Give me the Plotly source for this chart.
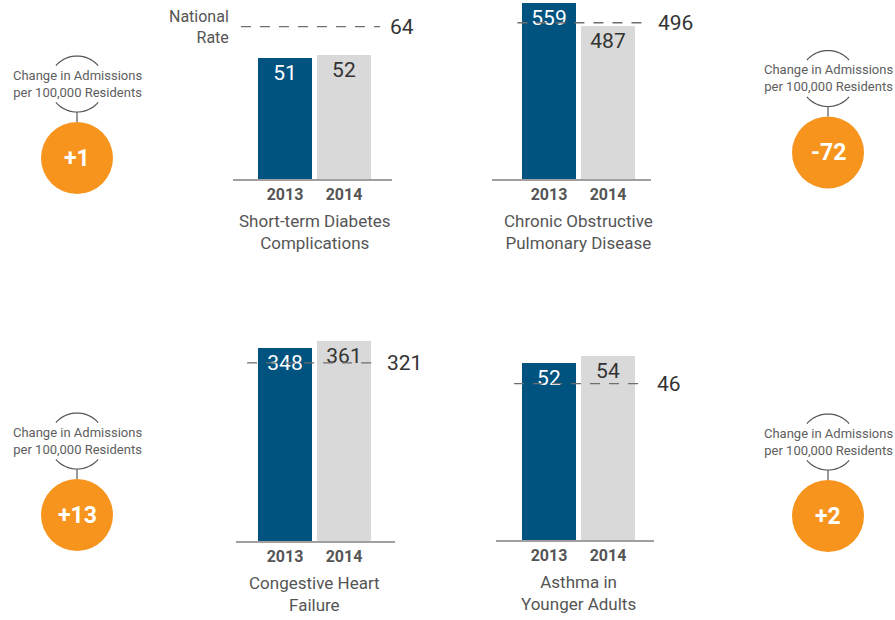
import math
import plotly.graph_objects as go

# ---- data -------------------------------------------------------------
conditions = [
    "Short-term Diabetes<br>Complications",
    "Chronic Obstructive<br>Pulmonary Disease",
    "Congestive Heart<br>Failure",
    "Asthma in<br>Younger Adults",
]
years = ["2013", "2014"]
rate_2013 = [51, 559, 348, 52]
rate_2014 = [52, 487, 361, 54]
national_rate = [64, 496, 321, 46]
change = [b - a for a, b in zip(rate_2013, rate_2014)]

# ---- layout helpers (pixel geometry of the 895x620 canvas) -------------
W, H = 895, 620
BLUE = "#00527f"
GREY_BAR = "#d9d9d9"
ORANGE = "#f7941d"
TXT = "#555555"
DARK = "#333333"
FONT = "Roboto"


def fx(x):
    return x / W


def fy(y):
    return 1 - y / H


# per panel: x extent of axis (px), top/bottom of plot area (px),
# centre of first bar (px), px per data unit, dashed-line span (domain frac),
# badge centre (px)
panels = [
    dict(x0=233, x1=392, top=0, base=179, c0=285, k=2.38, d=(0.05, 0.925), badge=(77, 158)),
    dict(x0=492, x1=651, top=0, base=179, c0=549, k=0.315, d=(0.16, 0.98), badge=(828, 152.5)),
    dict(x0=236, x1=395, top=290, base=541, c0=285, k=0.555, d=(0.07, 0.887), badge=(77, 515)),
    dict(x0=496, x1=654, top=290, base=540, c0=549, k=3.40, d=(0.114, 0.956), badge=(828, 516)),
]
STEP = 59.0  # px between bar centres

fig = go.Figure()
shapes = []
annotations = []

for i, p in enumerate(panels):
    n = "" if i == 0 else str(i + 1)
    xa, ya = "x" + n, "y" + n
    vals = [rate_2013[i], rate_2014[i]]
    fig.add_trace(
        go.Bar(
            x=list(range(len(years))),
            y=vals,
            xaxis=xa,
            yaxis=ya,
            width=54 / STEP,
            marker=dict(color=[BLUE, GREY_BAR], line=dict(width=0)),
            text=[str(v) for v in vals],
            textposition="inside",
            insidetextanchor="end",
            textangle=0,
            constraintext="none",
            textfont=dict(family=FONT, size=21, color=["white", DARK]),
            hoverinfo="skip",
            showlegend=False,
        )
    )
    xr = [(p["x0"] - p["c0"]) / STEP, (p["x1"] - p["c0"]) / STEP]
    yr = [0, (p["base"] - p["top"]) / p["k"]]
    fig.layout["xaxis" + n] = dict(
        domain=[fx(p["x0"]), fx(p["x1"])],
        range=xr,
        anchor=ya,
        tickvals=list(range(len(years))),
        ticktext=[f"<b>{y}</b>" for y in years],
        tickfont=dict(family=FONT, size=16, color=TXT),
        showline=True,
        linecolor="#a0a0a0",
        linewidth=2,
        showgrid=False,
        zeroline=False,
        ticks="",
        fixedrange=True,
    )
    fig.layout["yaxis" + n] = dict(
        domain=[fy(p["base"]), fy(p["top"])],
        range=yr,
        anchor=xa,
        visible=False,
        fixedrange=True,
    )

    # national rate reference line and its value
    shapes.append(
        dict(
            type="line",
            xref=xa + " domain",
            yref=ya,
            x0=p["d"][0],
            x1=p["d"][1],
            y0=national_rate[i],
            y1=national_rate[i],
            line=dict(color="#6f6f6f", width=1.3, dash="10px,9px"),
            layer="above",
        )
    )
    annotations.append(
        dict(
            xref=xa + " domain",
            yref=ya,
            x=p["d"][1] + 8 / 159,
            y=national_rate[i],
            xanchor="left",
            yanchor="middle",
            text=str(national_rate[i]),
            showarrow=False,
            font=dict(family=FONT, size=21, color=DARK),
        )
    )
    if i == 0:
        annotations.append(
            dict(
                xref=xa + " domain",
                yref=ya,
                x=p["d"][0] - 10 / 159,
                y=national_rate[i],
                xanchor="right",
                yanchor="middle",
                align="right",
                text="National<br>Rate",
                showarrow=False,
                font=dict(family=FONT, size=16, color=TXT),
            )
        )

    # condition name under the years
    mid = (p["c0"] + STEP / 2)
    annotations.append(
        dict(
            xref="paper",
            yref="paper",
            x=fx(mid),
            y=fy(p["base"] + 53),
            xanchor="center",
            yanchor="middle",
            text=conditions[i],
            showarrow=False,
            font=dict(family=FONT, size=17, color=TXT),
        )
    )

    # change badge
    bx, by = p["badge"]
    r = 36
    shapes.append(
        dict(
            type="circle",
            xref="paper",
            yref="paper",
            x0=fx(bx - r),
            x1=fx(bx + r),
            y0=fy(by + r),
            y1=fy(by - r),
            fillcolor=ORANGE,
            line=dict(width=0),
            layer="above",
        )
    )
    sign = "+" if change[i] > 0 else ""
    annotations.append(
        dict(
            xref="paper",
            yref="paper",
            x=fx(bx),
            y=fy(by),
            xanchor="center",
            yanchor="middle",
            text=f"<b>{sign}{change[i]}</b>",
            showarrow=False,
            font=dict(family=FONT, size=23, color="white"),
        )
    )
    tx, ty = bx, by - 74
    annotations.append(
        dict(
            xref="paper",
            yref="paper",
            x=fx(tx),
            y=fy(ty),
            xanchor="center",
            yanchor="middle",
            text="Change in Admissions<br>per 100,000 Residents",
            showarrow=False,
            font=dict(family=FONT, size=13, color="#5e5e5e"),
        )
    )
    # brackets above and below the caption
    ra = 28
    for centre_deg in (90, 270):
        pts = []
        for s in range(21):
            a = math.radians(centre_deg - 49 + 98 * s / 20)
            pts.append((fx(tx + ra * math.cos(a)), fy(ty - ra * math.sin(a))))
        path = "M " + " L ".join(f"{x:.5f},{y:.5f}" for x, y in pts)
        shapes.append(
            dict(type="path", xref="paper", yref="paper", path=path,
                 line=dict(color="#555555", width=1.2))
        )
    shapes.append(
        dict(type="line", xref="paper", yref="paper",
             x0=fx(tx), x1=fx(tx), y0=fy(ty + ra), y1=fy(by - r),
             line=dict(color="#555555", width=1.2))
    )

fig.update_layout(
    width=W,
    height=H,
    margin=dict(l=0, r=0, t=0, b=0),
    paper_bgcolor="white",
    plot_bgcolor="white",
    bargap=0,
    shapes=shapes,
    annotations=annotations,
    showlegend=False,
)

fig.write_html("out.html")
